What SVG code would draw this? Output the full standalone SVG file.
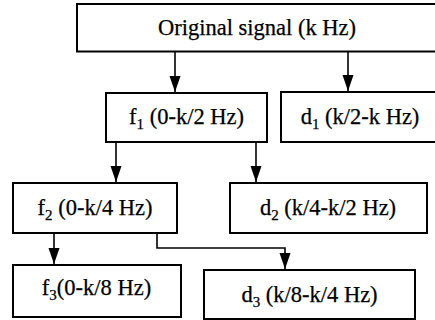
<svg xmlns="http://www.w3.org/2000/svg" width="435" height="320" viewBox="0 0 435 320">
<style>
.box{fill:#fff;stroke:#000;stroke-width:2}
.lbl{font-family:"Liberation Serif","Times New Roman",serif;font-size:22.5px;fill:#000;stroke:#000;stroke-width:0.25;text-anchor:middle}
.sub{font-size:15px}
.con{fill:none;stroke:#000;stroke-width:1.6}
</style>
<defs>
<marker id="arr" markerUnits="userSpaceOnUse" markerWidth="17" markerHeight="12" refX="16" refY="5.5" orient="auto">
<path d="M0,0 L16,5.5 L0,11 z" fill="#000"/>
</marker>
</defs>
<g id="connectors">
<line class="con" x1="175" y1="52" x2="175" y2="92" marker-end="url(#arr)"/>
<line class="con" x1="348" y1="52" x2="348" y2="91" marker-end="url(#arr)"/>
<line class="con" x1="116" y1="142" x2="116" y2="182" marker-end="url(#arr)"/>
<line class="con" x1="256" y1="142" x2="256" y2="182" marker-end="url(#arr)"/>
<line class="con" x1="54" y1="233" x2="54" y2="264" marker-end="url(#arr)"/>
<polyline class="con" points="157,233 157,248 285,248 285,269" marker-end="url(#arr)"/>
</g>
<g id="original">
<rect class="box" x="77" y="4" width="362" height="47.5"/>
<text class="lbl" x="257" y="35">Original signal (k Hz)</text>
</g>
<g id="f1">
<rect class="box" x="106" y="93" width="161" height="49"/>
<text class="lbl" x="186.5" y="124">f<tspan class="sub" dy="5">1</tspan><tspan dy="-5"> (0-k/2 Hz)</tspan></text>
</g>
<g id="d1">
<rect class="box" x="281" y="92" width="160" height="50"/>
<text class="lbl" x="360" y="124">d<tspan class="sub" dy="5">1</tspan><tspan dy="-5"> (k/2-k Hz)</tspan></text>
</g>
<g id="f2">
<rect class="box" x="13" y="183" width="164" height="50"/>
<text class="lbl" x="95" y="215">f<tspan class="sub" dy="5">2</tspan><tspan dy="-5"> (0-k/4 Hz)</tspan></text>
</g>
<g id="d2">
<rect class="box" x="230" y="183" width="197" height="50"/>
<text class="lbl" x="328" y="215">d<tspan class="sub" dy="5">2</tspan><tspan dy="-5"> (k/4-k/2 Hz)</tspan></text>
</g>
<g id="f3">
<rect class="box" x="13" y="265" width="168" height="52"/>
<text class="lbl" x="96.5" y="295">f<tspan class="sub" dy="5">3</tspan><tspan dy="-5">(0-k/8 Hz)</tspan></text>
</g>
<g id="d3">
<rect class="box" x="204" y="270" width="211" height="49"/>
<text class="lbl" x="309.5" y="302">d<tspan class="sub" dy="5">3</tspan><tspan dy="-5"> (k/8-k/4 Hz)</tspan></text>
</g>
</svg>
